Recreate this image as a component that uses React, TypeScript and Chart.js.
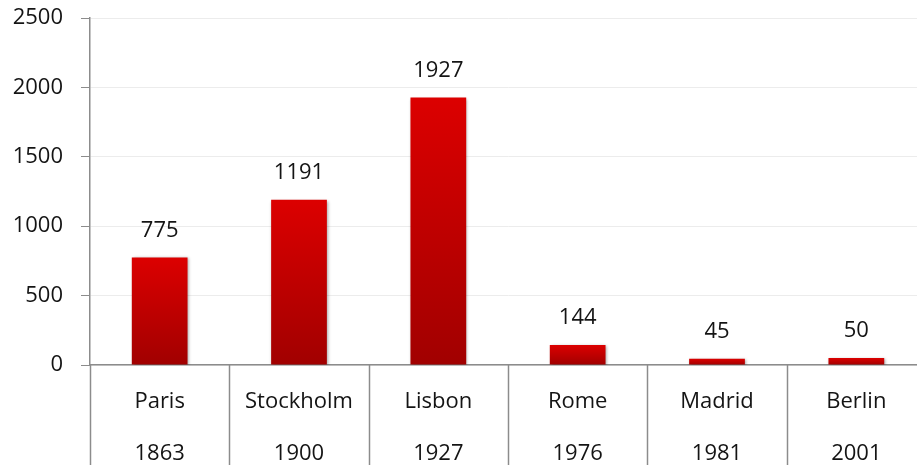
import React, { useEffect, useRef } from "react";
import { Chart, registerables } from "chart.js";

Chart.register(...registerables);

const cities = ["Paris", "Stockholm", "Lisbon", "Rome", "Madrid", "Berlin"];
const years = ["1863", "1900", "1927", "1976", "1981", "2001"];
const values = [775, 1191, 1927, 144, 45, 50];
const yTicks = [0, 500, 1000, 1500, 2000, 2500];

const FONT = "'Open Sans', 'Noto Sans', sans-serif";
const TEXT = "#141414";
const AXIS = "#8c8c8c";

const valueLabels = {
  id: "valueLabels",
  afterDatasetsDraw(chart: any) {
    const ctx = chart.ctx;
    const meta = chart.getDatasetMeta(0);
    ctx.save();
    ctx.font = `22px ${FONT}`;
    ctx.fillStyle = TEXT;
    ctx.textAlign = "center";
    ctx.textBaseline = "middle";
    meta.data.forEach((bar: any, i: number) => {
      ctx.fillText(String(values[i]), bar.x, bar.y - 27);
    });
    ctx.restore();
  },
};

const barShadow = {
  id: "barShadow",
  beforeDatasetsDraw(chart: any) {
    const ctx = chart.ctx;
    ctx.save();
    ctx.shadowColor = "rgba(0,0,0,0.35)";
    ctx.shadowBlur = 3;
    ctx.shadowOffsetX = 1;
    ctx.shadowOffsetY = 1;
  },
  afterDatasetsDraw(chart: any) {
    chart.ctx.restore();
  },
};

const separators = {
  id: "separators",
  afterDraw(chart: any) {
    const ctx = chart.ctx;
    const xs = chart.scales.x;
    const ys = chart.scales.y;
    const n = cities.length;
    const w = (xs.right - xs.left) / n;
    ctx.save();
    ctx.strokeStyle = AXIS;
    ctx.lineWidth = 1.5;
    for (let i = 0; i < n; i++) {
      const x = Math.round(xs.left + i * w) + 0.5;
      ctx.beginPath();
      ctx.moveTo(x, ys.bottom);
      ctx.lineTo(x, chart.height);
      ctx.stroke();
    }
    ctx.restore();
  },
};

export default function App() {
  const ref = useRef<HTMLCanvasElement>(null);
  useEffect(() => {
    document.body.style.margin = "0";
    const canvas = ref.current!;
    const chart = new Chart(canvas, {
      type: "bar",
      data: {
        labels: cities.map((c, i) => [c, years[i]]),
        datasets: [
          {
            data: values,
            barPercentage: 0.4,
            categoryPercentage: 1,
            borderWidth: 0,
            backgroundColor: (c: any) => {
              const ch = c.chart;
              const area = ch.chartArea;
              if (!area || c.dataIndex === undefined) return "#c80000";
              const ys = ch.scales.y;
              const top = ys.getPixelForValue(values[c.dataIndex]);
              const bottom = ys.getPixelForValue(0);
              if (!isFinite(top) || !isFinite(bottom) || top === bottom) return "#c80000";
              const g = ch.ctx.createLinearGradient(0, top, 0, bottom);
              g.addColorStop(0, "#dc0000");
              g.addColorStop(1, "#a10000");
              return g;
            },
          },
        ],
      },
      options: {
        animation: false,
        responsive: false,
        maintainAspectRatio: false,
        layout: { padding: { top: 18, right: 0, left: 0, bottom: 0 } },
        plugins: {
          legend: { display: false },
          tooltip: { enabled: false },
        },
        scales: {
          x: {
            grid: { display: false },
            border: { display: true, color: AXIS, width: 1.5 },
            ticks: {
              autoSkip: false,
              maxRotation: 0,
              color: TEXT,
              padding: 3,
              font: { family: FONT, size: 22, lineHeight: 52 / 22 },
            },
            afterFit: (s: any) => {
              s.height = 100;
              s.paddingTop = 0;
              s.paddingBottom = 0;
              s.paddingLeft = 0;
              s.paddingRight = 0;
            },
          },
          y: {
            min: 0,
            max: 2500,
            afterBuildTicks: (s: any) => {
              s.ticks = yTicks.map((v) => ({ value: v }));
            },
            grid: {
              color: "#ececec",
              tickColor: AXIS,
              tickLength: 9,
              drawTicks: true,
            },
            border: { display: true, color: AXIS, width: 1.5 },
            ticks: {
              color: TEXT,
              padding: 18,
              font: { family: FONT, size: 22 },
              callback: (v: any) => String(v),
            },
            afterFit: (s: any) => {
              s.width = 90;
              s.paddingTop = 0;
              s.paddingBottom = 0;
            },
          },
        },
      },
      plugins: [barShadow, valueLabels, separators],
    });
    return () => chart.destroy();
  }, []);
  return (
    <div style={{ position: "relative", width: 917, height: 465, overflow: "hidden" }}>
      <canvas ref={ref} width={926} height={465} style={{ display: "block" }} />
    </div>
  );
}
